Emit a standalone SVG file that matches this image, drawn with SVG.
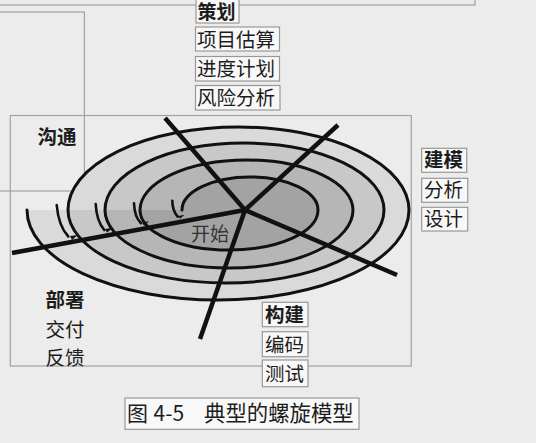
<svg xmlns="http://www.w3.org/2000/svg" width="536" height="443" viewBox="0 0 536 443">
  <style>
    .frame { fill: none; stroke: #a2a2a2; stroke-width: 1.2; }
    .box { fill: #f8f8f8; stroke: #989898; stroke-width: 1.2; }
    .t { font-family: "Noto Sans CJK SC", "Noto Sans", sans-serif; font-size: 19.5px; fill: #1c1c1c; }
    .b { font-weight: bold; }
    .spiral { fill: none; stroke: #111; stroke-width: 3; stroke-linecap: round; }
    .axis { fill: none; stroke: #111; stroke-width: 4.5; stroke-linecap: butt; }
    .tick { fill: none; stroke: #111; stroke-width: 2.6; stroke-linecap: round; }
    .barb { fill: #111; }
  </style>
  <rect x="0" y="0" width="536" height="443" fill="#ececec"/>

  <!-- frames -->
  <g id="frames">
    <rect class="frame" x="-5" y="-5" width="480" height="10"/>
    <rect class="frame" x="-5" y="12" width="89.4" height="179"/>
    <rect class="frame" x="10.3" y="115.5" width="401" height="250.5"/>
  </g>

  <!-- spiral shading and curve -->
  <g id="spiral">
    <path fill="#dadada" d="M68,210 A170.5,83 0 0 1 409,210 A191,90 0 0 1 27,210 Z"/>
    <path fill="#c8c8c8" d="M105,210 A139.5,67 0 0 1 384,210 A158,73 0 0 1 68,210 Z"/>
    <path fill="#b6b6b6" d="M140,210 A106.5,50 0 0 1 353,210 A124,58 0 0 1 105,210 Z"/>
    <path fill="#a3a3a3" d="M182,210 A68,33 0 0 1 318,210 A89,40 0 0 1 140,210 Z"/>
    <path class="spiral" d="M182,210 A68,33 0 0 1 318,210 A89,40 0 0 1 140,210 A106.5,50 0 0 1 353,210 A124,58 0 0 1 105,210 A139.5,67 0 0 1 384,210 A158,73 0 0 1 68,210 A170.5,83 0 0 1 409,210 A191,90 0 0 1 27,210"/>
    <!-- direction ticks -->
    <path class="tick" d="M56.7,205 Q58.5,226 68.3,236.5"/>
    <path class="tick" d="M95.7,204 Q96.5,221 104.3,230"/>
    <path class="tick" d="M134,203.3 Q134.5,217 141,223.3"/>
    <path class="tick" d="M172.3,200.7 Q172.5,211 177.7,216.7"/>
    <path class="barb" d="M70,236 l8,-1 l-6,5 z"/>
    <path class="barb" d="M105,229 l8,-1.3 l-6,5 z"/>
    <path class="barb" d="M142,222.5 l7,-1.3 l-5,4.5 z"/>
    <path class="barb" d="M178.5,216 l6,-1.2 l-4.5,4 z"/>
  </g>

  <!-- radial axes -->
  <g id="connectors">
    <line class="axis" x1="245" y1="210" x2="165" y2="118"/>
    <line class="axis" x1="245" y1="210" x2="338" y2="125"/>
    <line class="axis" x1="245" y1="210" x2="397" y2="275"/>
    <line class="axis" x1="245" y1="210" x2="200" y2="339"/>
    <line class="axis" x1="245" y1="210" x2="12" y2="253"/>
  </g>

  <g id="start"><text class="t" x="191" y="240.5" style="fill:#333;font-size:19px">开始</text></g>

  <!-- planning -->
  <g id="plan">
    <rect class="box" x="196" y="-3" width="43" height="26"/>
    <text class="t b" x="197.5" y="19" style="font-size:19px">策划</text>
  </g>
  <g id="estimate">
    <rect class="box" x="195.5" y="27" width="84" height="24"/>
    <text class="t" x="197" y="46.5">项目估算</text>
  </g>
  <g id="schedule">
    <rect class="box" x="195.5" y="56.5" width="84" height="24.5"/>
    <text class="t" x="197" y="75.5">进度计划</text>
  </g>
  <g id="risk">
    <rect class="box" x="195.5" y="85.5" width="84.5" height="24.5"/>
    <text class="t" x="197" y="104.5">风险分析</text>
  </g>

  <!-- communication -->
  <g id="communicate">
    <text class="t b" x="37.5" y="144">沟通</text>
  </g>

  <!-- modeling -->
  <g id="model">
    <rect class="box" x="421.7" y="148.3" width="45" height="24"/>
    <text class="t b" x="424" y="167">建模</text>
  </g>
  <g id="analysis">
    <rect class="box" x="421.7" y="178.3" width="46" height="24"/>
    <text class="t" x="424" y="197">分析</text>
  </g>
  <g id="design">
    <rect class="box" x="421.7" y="207.3" width="46" height="23.7"/>
    <text class="t" x="424" y="226">设计</text>
  </g>

  <!-- deployment -->
  <g id="deploy">
    <text class="t b" x="45.5" y="307">部署</text>
  </g>
  <g id="deliver">
    <text class="t" x="45.5" y="336.5">交付</text>
  </g>
  <g id="feedback">
    <text class="t" x="45.5" y="365">反馈</text>
  </g>

  <!-- construction -->
  <g id="construct">
    <rect class="box" x="262.3" y="302.3" width="45.7" height="24.4"/>
    <text class="t b" x="265" y="322">构建</text>
  </g>
  <g id="code">
    <rect class="box" x="262.3" y="331.7" width="45.7" height="25"/>
    <text class="t" x="265" y="352">编码</text>
  </g>
  <g id="test">
    <rect class="box" x="262.3" y="360" width="45.7" height="26.7"/>
    <text class="t" x="265" y="380.5">测试</text>
  </g>

  <!-- caption -->
  <g id="caption">
    <rect class="box" x="125" y="398" width="234" height="31.3"/>
    <text class="t" style="font-size:21px" y="421"><tspan x="127">图</tspan><tspan x="153.5">4-5</tspan><tspan x="204" style="font-size:21.4px">典型的螺旋模型</tspan></text>
  </g>
</svg>
